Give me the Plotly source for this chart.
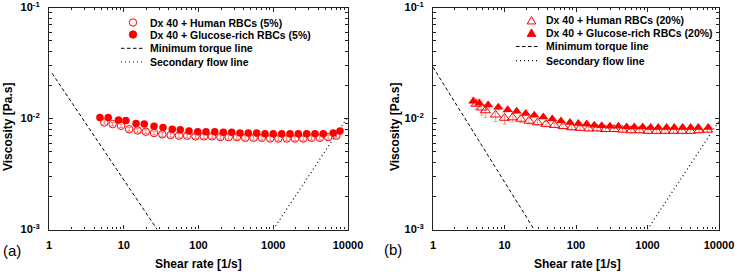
import plotly.graph_objects as go

W, H = 737, 272
RED = "#ff0000"
FONT = "Liberation Sans, Arial, sans-serif"

# ---- Panel (a) data ----
a_glu_x = [4.8, 6.2, 8.5, 10.7, 14.6, 18.8, 25.4, 33.5, 44.6, 57.1, 74.6, 97.6, 126, 165, 215,
           278, 359, 464, 601, 776, 1000, 1297, 1675, 2163, 2800, 3620, 4680, 6350, 7820]
a_glu_y = [0.0102, 0.0102, 0.0097, 0.0096, 0.0090, 0.0089, 0.0085, 0.0083, 0.0080, 0.0079, 0.0077,
           0.0076, 0.0076, 0.0076, 0.0075, 0.0075, 0.0074, 0.0074, 0.0074, 0.0073, 0.0073, 0.0073,
           0.0073, 0.0073, 0.0073, 0.0073, 0.0073, 0.0074, 0.0077]
a_glu_err = [0.0002] * len(a_glu_x)

a_hum_x = [5.5, 7.1, 9.2, 11.8, 15.3, 19.7, 25.4, 32.8, 42.4, 54.7, 70.6, 91.1, 118, 152, 196,
           253, 327, 422, 545, 703, 908, 1172, 1513, 1953, 2521, 3255, 4202, 5425, 7004]
a_hum_y = [0.0092, 0.0089, 0.0086, 0.0080, 0.0078, 0.0076, 0.0074, 0.0072, 0.0071, 0.0070, 0.0070,
           0.0069, 0.0069, 0.0069, 0.0068, 0.0068, 0.0068, 0.0067, 0.0067, 0.0067, 0.0066, 0.0066,
           0.0066, 0.0066, 0.0066, 0.0067, 0.0067, 0.0068, 0.0070]
a_hum_err = [0.0003] * len(a_hum_x)

# ---- Panel (b) data ----
b_glu_x = [3.66, 4.44, 5.9, 8.2, 11.1, 14.8, 19.8, 26.1, 34.9, 46.6, 61.7, 82.4, 108, 141, 180,
           229, 299, 391, 512, 654, 857, 1109, 1416, 1855, 2370, 3106, 4018, 5129, 7080]
b_glu_y = [0.0143, 0.0137, 0.0132, 0.0126, 0.0120, 0.0116, 0.0111, 0.0107, 0.0103, 0.0099, 0.0095,
           0.0092, 0.0090, 0.0089, 0.0087, 0.0086, 0.0085, 0.0085, 0.0084, 0.0084, 0.0084, 0.0083,
           0.0083, 0.0083, 0.0083, 0.0083, 0.0083, 0.0083, 0.0083]
b_glu_err = [0.0012, 0.0012, 0.0008, 0.0006, 0.0005, 0.0004, 0.0004, 0.0003, 0.0003, 0.0003, 0.0003,
             0.0003, 0.0003, 0.0002, 0.0002, 0.0002, 0.0002, 0.0002, 0.0002, 0.0002, 0.0002, 0.0002,
             0.0002, 0.0002, 0.0002, 0.0002, 0.0002, 0.0002, 0.0002]

b_hum_x = [4.0, 4.8, 5.4, 7.5, 10.0, 13.0, 17.0, 22.0, 29.0, 38.0, 50.0, 66.0, 87.0, 114, 150,
           197, 258, 340, 447, 588, 773, 1016, 1336, 1757, 2310, 3038, 3995, 5253, 6900]
b_hum_y = [0.0135, 0.0125, 0.0118, 0.0108, 0.0101, 0.0102, 0.0099, 0.0095, 0.0092, 0.0089, 0.0087,
           0.0085, 0.0083, 0.0082, 0.0081, 0.0081, 0.0080, 0.0080, 0.0079, 0.0078, 0.0078, 0.0077,
           0.0077, 0.0077, 0.0077, 0.0077, 0.0077, 0.0078, 0.0079]
b_hum_err = [0.0015, 0.0018, 0.0016, 0.0014, 0.0012, 0.0009, 0.0007, 0.0006, 0.0005, 0.0005, 0.0004,
             0.0004, 0.0004, 0.0004, 0.0004, 0.0004, 0.0004, 0.0004, 0.0004, 0.0004, 0.0004, 0.0004,
             0.0004, 0.0004, 0.0004, 0.0004, 0.0004, 0.0004, 0.0004]

# ---- Limit lines ----
a_torque_x = [1.1, 28]
a_torque_y = [0.0255, 0.001]
a_flow_x = [1000, 10000]
a_flow_y = [0.001, 0.0104]
b_torque_x = [1.0, 26]
b_torque_y = [0.029, 0.001]
b_flow_x = [1000, 10000]
b_flow_y = [0.001, 0.0095]

x_ticks = [1, 10, 100, 1000, 10000]
x_ticktext = ["<b>1</b>", "<b>10</b>", "<b>100</b>", "<b>1000</b>", "<b>10000</b>"]
y_ticks = [0.001, 0.01, 0.1]
y_ticktext = ["<b>10<sup>-3</sup></b>", "<b>10<sup>-2</sup></b>", "<b>10<sup>-1</sup></b>"]

legend_a = ["Dx 40 + Human RBCs (5%)", "Dx 40 + Glucose-rich RBCs (5%)",
            "Minimum torque line", "Secondary flow line"]
legend_b = ["Dx 40 + Human RBCs (20%)", "Dx 40 + Glucose-rich RBCs (20%)",
            "Minimum torque line", "Secondary flow line"]

x_minor = [m * 10 ** k for k in range(4) for m in range(2, 10)]
y_minor = [m * 10 ** k for k in (-3, -2) for m in range(2, 10)]

DASH = "3.5px,2.5px"
DOT = "1px,3px"

fig = go.Figure()

def add_panel(xa, ya, hx, hy, he, gx, gy, ge, tx, ty, fx, fy, hsym, gsym, msize, errcol):
    fig.add_trace(go.Scatter(x=tx, y=ty, mode="lines", xaxis=xa, yaxis=ya,
                             line=dict(color="black", width=1, dash=DASH), showlegend=False))
    fig.add_trace(go.Scatter(x=fx, y=fy, mode="lines", xaxis=xa, yaxis=ya,
                             line=dict(color="black", width=1.2, dash=DOT), showlegend=False))
    fig.add_trace(go.Scatter(x=hx, y=hy, mode="markers", xaxis=xa, yaxis=ya,
                             error_y=dict(type="data", array=he, color=errcol, thickness=0.8, width=2),
                             marker=dict(symbol=hsym, size=msize, color=RED, line=dict(color=RED, width=1)),
                             showlegend=False))
    fig.add_trace(go.Scatter(x=gx, y=gy, mode="markers", xaxis=xa, yaxis=ya,
                             error_y=dict(type="data", array=ge, color=errcol, thickness=0.8, width=2),
                             marker=dict(symbol=gsym, size=msize, color=RED), showlegend=False))

add_panel("x", "y", a_hum_x, a_hum_y, a_hum_err, a_glu_x, a_glu_y, a_glu_err,
          a_torque_x, a_torque_y, a_flow_x, a_flow_y, "circle-open", "circle", 7.5, "rgba(255,60,60,0.8)")
add_panel("x2", "y2", b_hum_x, b_hum_y, b_hum_err, b_glu_x, b_glu_y, b_glu_err,
          b_torque_x, b_torque_y, b_flow_x, b_flow_y, "triangle-up-open", "triangle-up", 9, "rgba(255,80,80,0.7)")

def px(x):
    return x / W

def py(y):
    return 1 - y / H

axis_common = dict(type="log", showgrid=False, zeroline=False, showline=True, linecolor="#222222",
                   linewidth=1.2, mirror="ticks", ticks="inside", ticklen=4, tickwidth=1,
                   tickcolor="#222222", automargin=False, ticklabeloverflow="allow",
                   tickfont=dict(family=FONT, size=11, color="black"))
minor_x = dict(tickmode="array", tickvals=x_minor, ticks="inside", ticklen=2.5,
               tickcolor="#222222", tickwidth=1)
minor_y = dict(tickmode="array", tickvals=y_minor, ticks="inside", ticklen=2.5,
               tickcolor="#222222", tickwidth=1)

ydom = [py(229.5), py(7.5)]
fig.update_layout(
    width=W, height=H, margin=dict(l=0, r=0, t=0, b=0, pad=0),
    paper_bgcolor="white", plot_bgcolor="white", showlegend=False,
    xaxis=dict(axis_common, domain=[px(49), px(348)], range=[0, 4], anchor="y",
               tickmode="array", tickvals=x_ticks, ticktext=x_ticktext, ticklabelstandoff=5,
               minor=minor_x),
    yaxis=dict(axis_common, domain=ydom, range=[-3, -1], anchor="x",
               tickmode="array", tickvals=y_ticks, ticktext=y_ticktext, ticklabelstandoff=6,
               minor=minor_y),
    xaxis2=dict(axis_common, domain=[px(433), px(719)], range=[0, 4], anchor="y2",
                tickmode="array", tickvals=x_ticks, ticktext=x_ticktext, ticklabelstandoff=5,
                minor=minor_x),
    yaxis2=dict(axis_common, domain=ydom, range=[-3, -1], anchor="x2",
                tickmode="array", tickvals=y_ticks, ticktext=y_ticktext, ticklabelstandoff=6,
                minor=minor_y),
)

annotations = []
shapes = []

def text(x, y, s, size=11, bold=True, xanchor="left", angle=0):
    annotations.append(dict(xref="paper", yref="paper", x=px(x), y=py(y), text=(f"<b>{s}</b>" if bold else s),
                            showarrow=False, xanchor=xanchor, yanchor="middle", textangle=angle,
                            borderpad=0, font=dict(family=FONT, size=size, color="black")))

# axis titles and panel labels
text(198, 264, "Shear rate [1/s]", size=12, xanchor="center")
text(577, 264, "Shear rate [1/s]", size=12, xanchor="center")
text(8, 127, "Viscosity [Pa.s]", size=12, xanchor="center", angle=-90)
text(395, 127, "Viscosity [Pa.s]", size=12, xanchor="center", angle=-90)
text(12, 250, "(a)", size=15, bold=False, xanchor="center")
text(393, 249, "(b)", size=15, bold=False, xanchor="center")

def legend(labels, tx, sx, rows, lx0, lx1, hollow_shape, r):
    for lab, ry in zip(labels, rows):
        text(tx, ry, lab, size=10.5)
    for i, kind in enumerate(["open", "filled"]):
        ry = rows[i]
        fill = "rgba(0,0,0,0)" if kind == "open" else RED
        if hollow_shape == "circle":
            shapes.append(dict(type="circle", xref="paper", yref="paper", xsizemode="pixel", ysizemode="pixel",
                               xanchor=px(sx), yanchor=py(ry), x0=-r, x1=r, y0=-r, y1=r,
                               line=dict(color=RED, width=1), fillcolor=fill))
        else:
            path = f"M {-r} {-r * 0.8} L {r} {-r * 0.8} L 0 {r * 0.95} Z"
            shapes.append(dict(type="path", xref="paper", yref="paper", xsizemode="pixel", ysizemode="pixel",
                               xanchor=px(sx), yanchor=py(ry), path=path,
                               line=dict(color=RED, width=1), fillcolor=fill))
    shapes.append(dict(type="line", xref="paper", yref="paper", x0=px(lx0), x1=px(lx1),
                       y0=py(rows[2]), y1=py(rows[2]), line=dict(color="black", width=1, dash=DASH)))
    shapes.append(dict(type="line", xref="paper", yref="paper", x0=px(lx0), x1=px(lx1),
                       y0=py(rows[3]), y1=py(rows[3]), line=dict(color="black", width=1.2, dash=DOT)))

legend(legend_a, 149, 133, [22.5, 34.5, 48.3, 62], 121, 145, "circle", 3.7)
legend(legend_b, 545, 531.5, [20.5, 33, 46.5, 60.7], 516, 540, "triangle", 4.3)

fig.update_layout(annotations=annotations, shapes=shapes)
fig.write_html("out.html", config={"displayModeBar": False},
               post_script="document.body.style.margin='0';")
